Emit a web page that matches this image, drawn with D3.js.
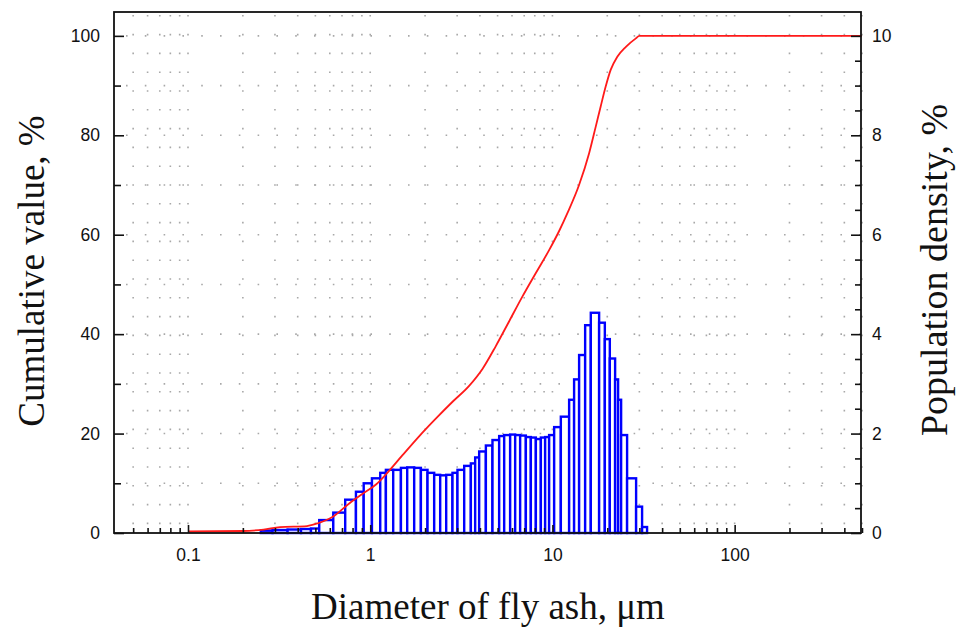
<!DOCTYPE html>
<html>
<head>
<meta charset="utf-8">
<script src="https://cdn.jsdelivr.net/npm/d3@7"></script>
<style>
  html, body { margin: 0; padding: 0; background: #fff; }
  svg { display: block; }
</style>
</head>
<body>
<div id="chart"></div>
<script>
// bin edges of the histogram, in micrometres
var binEdges = [0.251, 0.291, 0.352, 0.417, 0.473, 0.525, 0.627, 0.729, 0.835, 0.921,
  1.022, 1.135, 1.219, 1.337, 1.474, 1.596, 1.743, 1.897, 2.063, 2.244,
  2.421, 2.612, 2.828, 3.012, 3.279, 3.567, 3.767, 3.962, 4.312, 4.688,
  5.101, 5.435, 5.861, 6.245, 6.651, 7.147, 7.612, 8.110, 8.639, 9.120,
  9.592, 10.22, 11.12, 12.35, 13.15, 14.01, 15.12, 16.24, 18.04, 19.39,
  20.65, 22.08, 22.93, 23.82, 25.69, 28.79, 31.05, 33.07];

// population density of each bin, %
var density = [0.05, 0.06, 0.07, 0.08, 0.09, 0.26, 0.41, 0.67, 0.83, 1.00,
  1.10, 1.21, 1.27, 1.27, 1.31, 1.32, 1.31, 1.27, 1.21, 1.17,
  1.16, 1.17, 1.21, 1.27, 1.35, 1.40, 1.52, 1.64, 1.76, 1.87,
  1.95, 1.97, 1.98, 1.97, 1.96, 1.93, 1.92, 1.89, 1.92, 1.93,
  1.97, 2.13, 2.34, 2.68, 3.09, 3.58, 4.18, 4.43, 4.23, 3.90,
  3.51, 3.09, 2.68, 1.97, 1.10, 0.53, 0.12];

// cumulative curve
var cumDiameter = [0.1, 0.2, 0.26, 0.32, 0.45, 0.52, 0.62, 0.77, 0.9, 1.08,
  1.22, 1.5, 1.86, 2.29, 2.83, 3.49, 4.13, 4.89, 5.79, 6.85,
  8.11, 9.59, 10.9, 12.1, 14.0, 15.9, 17.3, 18.4, 19.6, 20.9,
  22.7, 25.3, 28.7, 30, 500];
var cumValue = [0.3, 0.4, 0.7, 1.2, 1.4, 2.0, 3.2, 6.0, 7.8, 9.8,
  11.8, 15.6, 19.5, 23.0, 26.4, 29.6, 33.0, 37.6, 42.6, 47.6,
  52.3, 56.9, 60.8, 64.4, 70.0, 76.4, 81.8, 85.8, 89.8, 93.2,
  95.8, 97.8, 99.5, 100, 100];

var xTicks = [0.1, 1, 10, 100];
var leftTicks = [0, 20, 40, 60, 80, 100];
var rightTicks = [0, 2, 4, 6, 8, 10];

var w = 963, h = 633;
var plotL = 114, plotR = 861, plotT = 12, plotB = 533;

var svg = d3.select("#chart").append("svg")
  .attr("width", w)
  .attr("height", h);

var x = d3.scaleLog().domain([0.04, 500]).range([115.5, 862]);
var yL = d3.scaleLinear().domain([0, 104.8]).range([plotB, plotT]);
var yR = d3.scaleLinear().domain([0, 10.48]).range([plotB, plotT]);

// minor log positions for grid and ticks
var logMinor = [];
[0.01, 0.1, 1, 10, 100].forEach(function(dec) {
  for (var k = 1; k <= 9; k++) {
    var v = +(dec * k).toPrecision(3);
    if (v >= 0.05 && v <= 500) logMinor.push(v);
  }
});

// dotted grid
var grid = svg.append("g")
  .attr("stroke", "#a8a8a8")
  .attr("stroke-width", 1.6)
  .attr("stroke-dasharray", "1.6,17.2");
grid.selectAll("line.v")
  .data(logMinor)
  .enter().append("line")
  .attr("x1", function(d) { return x(d); })
  .attr("x2", function(d) { return x(d); })
  .attr("y1", plotT + 3)
  .attr("y2", plotB);
grid.selectAll("line.h")
  .data(d3.range(10, 101, 10))
  .enter().append("line")
  .attr("x1", plotL + 12)
  .attr("x2", plotR)
  .attr("y1", function(d) { return yL(d); })
  .attr("y2", function(d) { return yL(d); });

// histogram bars
svg.append("g").selectAll("rect")
  .data(density)
  .enter().append("rect")
  .attr("x", function(d, i) { return x(binEdges[i]); })
  .attr("width", function(d, i) { return x(binEdges[i + 1]) - x(binEdges[i]); })
  .attr("y", function(d) { return yR(d); })
  .attr("height", function(d) { return plotB - yR(d); })
  .attr("fill", "#fff")
  .attr("stroke", "#0000ff")
  .attr("stroke-width", 2.4);

// cumulative line
var line = d3.line()
  .x(function(d, i) { return x(cumDiameter[i]); })
  .y(function(d) { return yL(d); })
  .curve(d3.curveMonotoneX);
svg.append("path")
  .datum(cumValue)
  .attr("d", line)
  .attr("fill", "none")
  .attr("stroke", "#ff1a1a")
  .attr("stroke-width", 1.8);

// axes (ticks inward)
var tickFont = "'Liberation Sans', Arial, sans-serif";

svg.append("g")
  .attr("transform", "translate(0," + plotB + ")")
  .call(d3.axisBottom(x).tickValues(xTicks).tickSize(-8).tickPadding(16)
    .tickFormat(function(d) { return d; }));
svg.append("g")
  .attr("transform", "translate(0," + plotB + ")")
  .call(d3.axisBottom(x).tickValues(logMinor.filter(function(d) { return xTicks.indexOf(d) < 0; }))
    .tickSize(-5).tickFormat(""));

svg.append("g")
  .attr("transform", "translate(" + plotL + ",0)")
  .call(d3.axisLeft(yL).tickValues(leftTicks).tickSize(-10).tickPadding(14));
svg.append("g")
  .attr("transform", "translate(" + plotL + ",0)")
  .call(d3.axisLeft(yL).tickValues(d3.range(10, 100, 20)).tickSize(-7).tickFormat(""));

svg.append("g")
  .attr("transform", "translate(" + plotR + ",0)")
  .call(d3.axisRight(yR).tickValues(rightTicks).tickSize(-10).tickPadding(11));
svg.append("g")
  .attr("transform", "translate(" + plotR + ",0)")
  .call(d3.axisRight(yR).tickValues(d3.range(0.5, 10, 0.5).filter(function(d) { return d % 2 !== 0; }))
    .tickSize(-6).tickFormat(""));

svg.selectAll(".domain").remove();
svg.selectAll(".tick line").attr("stroke", "#111").attr("stroke-width", 1.6);
svg.selectAll(".tick text")
  .attr("font-family", tickFont)
  .attr("font-size", "17.5px")
  .attr("fill", "#111");

// frame
svg.append("rect")
  .attr("x", plotL)
  .attr("y", plotT)
  .attr("width", plotR - plotL)
  .attr("height", plotB - plotT)
  .attr("fill", "none")
  .attr("stroke", "#111")
  .attr("stroke-width", 1.8);

// titles
var titleFont = "'Liberation Serif', 'Times New Roman', serif";
svg.append("text")
  .text("Diameter of fly ash, μm")
  .attr("x", 488)
  .attr("y", 619)
  .attr("text-anchor", "middle")
  .attr("font-family", titleFont)
  .attr("font-size", "37px")
  .attr("fill", "#111");

svg.append("text")
  .text("Cumulative value, %")
  .attr("transform", "translate(44,271) rotate(-90)")
  .attr("text-anchor", "middle")
  .attr("font-family", titleFont)
  .attr("font-size", "37px")
  .attr("fill", "#111");

svg.append("text")
  .text("Population density, %")
  .attr("transform", "translate(947,270) rotate(-90)")
  .attr("text-anchor", "middle")
  .attr("font-family", titleFont)
  .attr("font-size", "38px")
  .attr("fill", "#111");
</script>
</body>
</html>
